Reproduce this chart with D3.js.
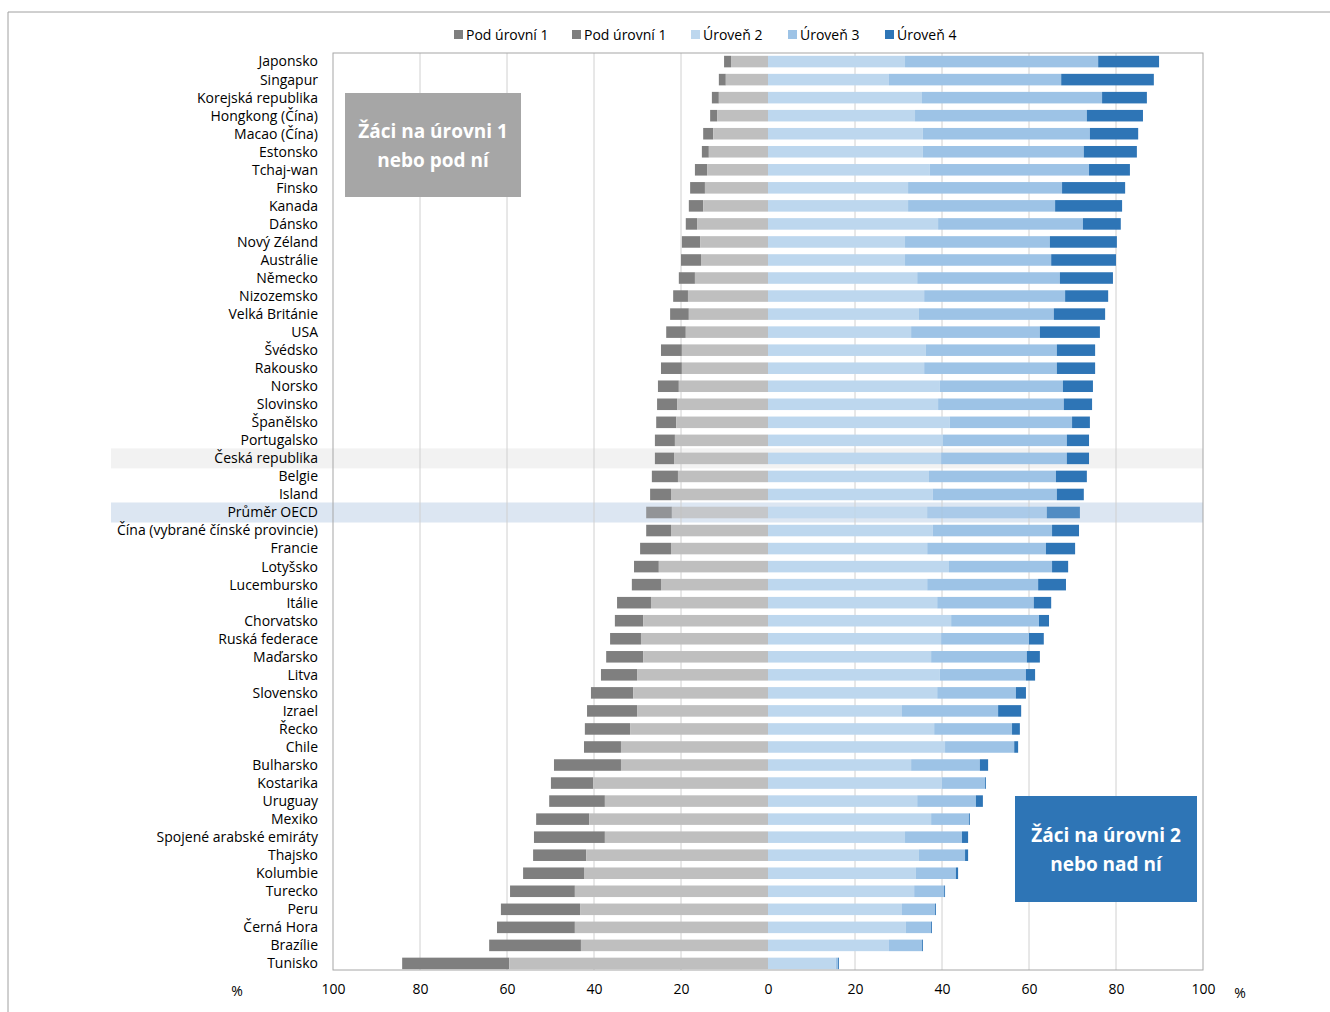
<!DOCTYPE html>
<html>
<head>
<meta charset="utf-8">
<style>
body { margin: 0; background: #fff; font-family: 'Open Sans', 'Liberation Sans', sans-serif; }
</style>
</head>
<body>
<svg width="1330" height="1012"></svg>
<script src="https://d3js.org/d3.v7.min.js"></script>
<script>

// ---- data (percent of students) ----
var countries = ["Japonsko","Singapur","Korejská republika","Hongkong (Čína)","Macao (Čína)","Estonsko","Tchaj-wan","Finsko","Kanada","Dánsko","Nový Zéland","Austrálie","Německo","Nizozemsko","Velká Británie","USA","Švédsko","Rakousko","Norsko","Slovinsko","Španělsko","Portugalsko","Česká republika","Belgie","Island","Průměr OECD","Čína (vybrané čínské provincie)","Francie","Lotyšsko","Lucembursko","Itálie","Chorvatsko","Ruská federace","Maďarsko","Litva","Slovensko","Izrael","Řecko","Chile","Bulharsko","Kostarika","Uruguay","Mexiko","Spojené arabské emiráty","Thajsko","Kolumbie","Turecko","Peru","Černá Hora","Brazílie","Tunisko"];

// level 1 and below level 1 together (left end of the bar)
var lowTotal = [10.1,11.3,12.9,13.3,14.9,15.2,16.8,17.9,18.2,18.9,19.8,20.0,20.5,21.8,22.5,23.4,24.6,24.6,25.3,25.5,25.7,26.0,26.0,26.7,27.1,28.0,28.0,29.4,30.8,31.3,34.7,35.2,36.3,37.2,38.4,40.7,41.6,42.1,42.3,49.2,49.9,50.3,53.3,53.8,54.0,56.3,59.3,61.4,62.3,64.1,84.1];
// level 1 only
var level1 = [8.5,9.7,11.3,11.7,12.6,13.6,14.0,14.5,14.9,16.3,15.6,15.4,16.8,18.4,18.2,18.9,19.8,19.8,20.5,20.9,21.1,21.4,21.6,20.7,22.3,22.1,22.3,22.3,25.1,24.6,26.9,28.7,29.2,28.7,30.1,31.0,30.1,31.7,33.8,33.8,40.2,37.5,41.1,37.5,41.8,42.3,44.4,43.2,44.4,43.0,59.5];
// cumulative right side: level 2, +level 3, +level 4
var upTo2 = [31.5,27.8,35.4,33.8,35.6,35.6,37.2,32.2,32.2,39.1,31.5,31.5,34.3,35.9,34.7,32.9,36.3,35.9,39.5,39.1,41.8,40.2,39.8,37.0,37.9,36.6,37.9,36.6,41.6,36.6,38.9,42.1,39.8,37.5,39.5,38.9,30.8,38.2,40.7,32.9,40.0,34.3,37.5,31.5,34.7,34.0,33.6,30.8,31.7,27.8,15.6];
var upTo3 = [75.9,67.4,76.8,73.3,74.0,72.6,73.8,67.6,66.0,72.4,64.8,65.1,67.1,68.3,65.7,62.5,66.4,66.4,67.8,68.0,69.9,68.7,68.7,66.2,66.4,64.1,65.3,63.9,65.3,62.1,61.1,62.3,60.0,59.5,59.3,57.0,52.9,56.1,56.6,48.7,49.9,47.8,46.2,44.6,45.3,43.2,40.5,38.4,37.5,35.4,16.1];
var upTo4 = [89.9,88.7,87.1,86.2,85.1,84.8,83.2,82.1,81.4,81.1,80.2,80.0,79.3,78.2,77.5,76.3,75.2,75.2,74.7,74.5,74.0,73.8,73.8,73.3,72.6,71.7,71.5,70.6,69.0,68.5,65.1,64.6,63.4,62.5,61.4,59.3,58.2,57.9,57.5,50.6,50.1,49.4,46.4,46.0,46.0,43.7,40.7,38.6,37.7,35.6,16.3];

var tickValues = [-100,-80,-60,-40,-20,0,20,40,60,80,100];
var legendLabels = ["Pod úrovní 1","Pod úrovní 1","Úroveň 2","Úroveň 3","Úroveň 4"];
var legendColors = ["#7f7f7f","#7f7f7f","#bdd7ee","#9dc3e6","#2e75b6"];

var col = { below1: "#7f7f7f", l1: "#bfbfbf", l2: "#bdd7ee", l3: "#9dc3e6", l4: "#2e75b6" };

// ---- view ----
var svg = d3.select("svg");
var plotL = 333, plotR = 1203, plotT = 53, plotB = 970;

var x = d3.scaleLinear().domain([-100, 100]).range([plotL, plotR]);
var y = d3.scaleBand().domain(countries).range([plotT + 1, plotB + 1]).paddingInner(0.36).paddingOuter(0.1);

// outer frame
svg.append("path").attr("d", "M8,1012V12H1330").attr("fill", "none").attr("stroke", "#a0a0a0");

// highlight rows
[["Česká republika", "#f2f2f2"], ["Průměr OECD", "#dce6f2"]].forEach(function(h) {
  var cy = y(h[0]) + y.bandwidth() / 2;
  svg.append("rect").attr("x", 111).attr("width", plotR - 111)
    .attr("y", cy - 10).attr("height", 20).attr("fill", h[1]);
});

// grid
svg.append("g").selectAll("line").data(tickValues.slice(1, -1).filter(function(d) { return d !== 0; }))
  .enter().append("line")
  .attr("x1", function(d) { return x(d); }).attr("x2", function(d) { return x(d); })
  .attr("y1", plotT).attr("y2", plotB)
  .attr("stroke", "#d0d0d0");

// bars
var rows = countries.map(function(c, i) {
  return { c: c, segs: [
    [-lowTotal[i], -level1[i], col.below1],
    [-level1[i], 0, col.l1],
    [0, upTo2[i], col.l2],
    [upTo2[i], upTo3[i], col.l3],
    [upTo3[i], upTo4[i], col.l4]
  ]};
});

var g = svg.append("g").selectAll("g").data(rows).enter().append("g")
  .attr("transform", function(d) { return "translate(0," + y(d.c) + ")"; });

g.selectAll("rect").data(function(d) { return d.segs.map(function(s) { return { s: s, c: d.c }; }); })
  .enter().append("rect")
  .attr("x", function(d) { return x(d.s[0]); })
  .attr("width", function(d) { return Math.max(0, x(d.s[1]) - x(d.s[0])); })
  .attr("height", y.bandwidth())
  .attr("fill", function(d) { return d.s[2]; })
  .attr("fill-opacity", function(d) { return d.c === "Průměr OECD" ? 0.8 : 1; });

// plot border
svg.append("rect").attr("x", plotL).attr("y", plotT).attr("width", plotR - plotL).attr("height", plotB - plotT)
  .attr("fill", "none").attr("stroke", "#a6a6a6");

// country labels
svg.append("g").selectAll("text").data(countries).enter().append("text")
  .attr("x", 318).attr("y", function(d) { return y(d) + y.bandwidth() / 2; })
  .attr("dy", "0.35em").attr("text-anchor", "end")
  .attr("font-size", 14).attr("fill", "#000")
  .text(function(d) { return d; });

// x axis
var xAxis = d3.axisBottom(x).tickValues(tickValues).tickSize(0).tickPadding(14)
  .tickFormat(function(d) { return Math.abs(d); });
var ax = svg.append("g").attr("transform", "translate(0," + plotB + ")").call(xAxis);
ax.select(".domain").remove();
ax.selectAll("text").attr("font-size", 14).attr("fill", "#000")
  .attr("font-family", "'Open Sans', 'Liberation Sans', sans-serif");
svg.append("text").attr("x", 237).attr("y", 996).attr("text-anchor", "middle").attr("font-size", 14).text("%");
svg.append("text").attr("x", 1240).attr("y", 998).attr("text-anchor", "middle").attr("font-size", 14).text("%");

// legend
var lx = [454, 572, 691, 788, 885];
var lg = svg.append("g").selectAll("g").data(legendLabels).enter().append("g")
  .attr("transform", function(d, i) { return "translate(" + lx[i] + ",35)"; });
lg.append("rect").attr("y", -5).attr("width", 9).attr("height", 9)
  .attr("fill", function(d, i) { return legendColors[i]; });
lg.append("text").attr("x", 12).attr("dy", "0.35em").attr("font-size", 14).text(function(d) { return d; });

// annotation boxes
function box(bx, by, w, h, fill, lines) {
  svg.append("rect").attr("x", bx).attr("y", by).attr("width", w).attr("height", h).attr("fill", fill);
  svg.append("g").selectAll("text").data(lines).enter().append("text")
    .attr("x", bx + w / 2).attr("y", function(d, i) { return by + h / 2 - 14 + i * 29; })
    .attr("dy", "0.35em").attr("text-anchor", "middle")
    .attr("font-size", 19).attr("font-weight", "bold").attr("fill", "#fff")
    .text(function(d) { return d; });
}
box(345, 93, 176, 104, "#a6a6a6", ["Žáci na úrovni 1", "nebo pod ní"]);
box(1015, 796, 182, 106, "#2e75b6", ["Žáci na úrovni  2", "nebo nad ní"]);

</script>
</body>
</html>
